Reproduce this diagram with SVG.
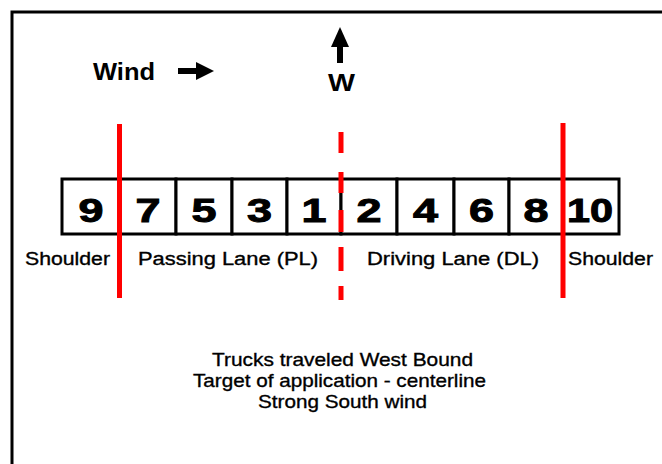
<svg xmlns="http://www.w3.org/2000/svg" width="662" height="464" viewBox="0 0 662 464">
<style>
.box{fill:#fff;stroke:#000;stroke-width:3}
.num{font-family:"Liberation Sans",Arial,sans-serif;font-weight:bold;font-size:34px;text-anchor:middle;fill:#000;stroke:#000;stroke-width:1}
.lbl{font-family:"Liberation Sans",Arial,sans-serif;font-size:18px;fill:#000;stroke:#000;stroke-width:0.35}
.note{font-family:"Liberation Sans",Arial,sans-serif;font-size:19px;fill:#000;stroke:#000;stroke-width:0.35}
.red{stroke:#ff0000;stroke-width:5;fill:none}
</style>
<rect x="0" y="0" width="662" height="464" fill="#fff"/>
<rect x="12" y="12" width="700" height="500" fill="none" stroke="#000" stroke-width="3"/>
<g id="wind">
<text x="93" y="80" class="lbl" style="font-size:23px;font-weight:bold;stroke-width:0" textLength="62" lengthAdjust="spacingAndGlyphs">Wind</text>
<line x1="178" y1="71" x2="200" y2="71" stroke="#000" stroke-width="6"/>
<polygon points="214,71 196,62 196,80" fill="#000"/>
</g>
<g id="west">
<polygon points="340,27 331,47 349,47" fill="#000"/>
<line x1="340" y1="44" x2="340" y2="63" stroke="#000" stroke-width="6"/>
<text x="328" y="90.5" class="lbl" style="font-size:24px;font-weight:bold;stroke-width:0" textLength="27" lengthAdjust="spacingAndGlyphs">W</text>
</g>
<g id="boxes">
<g id="b9"><rect class="box" x="62" y="179" width="57" height="55"/><text class="num" x="91" y="222" textLength="25" lengthAdjust="spacingAndGlyphs">9</text></g>
<g id="b7"><rect class="box" x="119" y="179" width="57" height="55"/><text class="num" x="148" y="222" textLength="25" lengthAdjust="spacingAndGlyphs">7</text></g>
<g id="b5"><rect class="box" x="176" y="179" width="56" height="55"/><text class="num" x="204" y="222" textLength="25" lengthAdjust="spacingAndGlyphs">5</text></g>
<g id="b3"><rect class="box" x="232" y="179" width="55" height="55"/><text class="num" x="259.5" y="222" textLength="25" lengthAdjust="spacingAndGlyphs">3</text></g>
<g id="b1"><rect class="box" x="287" y="179" width="54" height="55"/><text class="num" x="314" y="222" textLength="25" lengthAdjust="spacingAndGlyphs">1</text></g>
<g id="b2"><rect class="box" x="341" y="179" width="56" height="55"/><text class="num" x="369" y="222" textLength="25" lengthAdjust="spacingAndGlyphs">2</text></g>
<g id="b4"><rect class="box" x="397" y="179" width="57" height="55"/><text class="num" x="425.5" y="222" textLength="25" lengthAdjust="spacingAndGlyphs">4</text></g>
<g id="b6"><rect class="box" x="454" y="179" width="55" height="55"/><text class="num" x="481.5" y="222" textLength="25" lengthAdjust="spacingAndGlyphs">6</text></g>
<g id="b8"><rect class="box" x="509" y="179" width="54" height="55"/><text class="num" x="536" y="222" textLength="25" lengthAdjust="spacingAndGlyphs">8</text></g>
<g id="b10"><rect class="box" x="563" y="179" width="56" height="55"/><text class="num" x="590" y="222" textLength="46" lengthAdjust="spacingAndGlyphs">10</text></g>
</g>
<g id="lines">
<line class="red" x1="119.5" y1="124" x2="119.5" y2="298"/>
<line class="red" x1="563" y1="123" x2="563" y2="298"/>
<path class="red" d="M341,132V153M341,172V193M341,210V232M341,247V271M341,286V300"/>
</g>
<g id="labels">
<text class="lbl" x="25" y="265" textLength="85" lengthAdjust="spacingAndGlyphs">Shoulder</text>
<text class="lbl" x="138" y="265" textLength="180" lengthAdjust="spacingAndGlyphs">Passing Lane (PL)</text>
<text class="lbl" x="367" y="265" textLength="172" lengthAdjust="spacingAndGlyphs">Driving Lane (DL)</text>
<text class="lbl" x="568" y="265" textLength="85" lengthAdjust="spacingAndGlyphs">Shoulder</text>
</g>
<g id="notes">
<text class="note" x="212" y="366" textLength="261" lengthAdjust="spacingAndGlyphs">Trucks traveled West Bound</text>
<text class="note" x="193" y="387" textLength="293" lengthAdjust="spacingAndGlyphs">Target of application - centerline</text>
<text class="note" x="258" y="408" textLength="169" lengthAdjust="spacingAndGlyphs">Strong South wind</text>
</g>
</svg>
